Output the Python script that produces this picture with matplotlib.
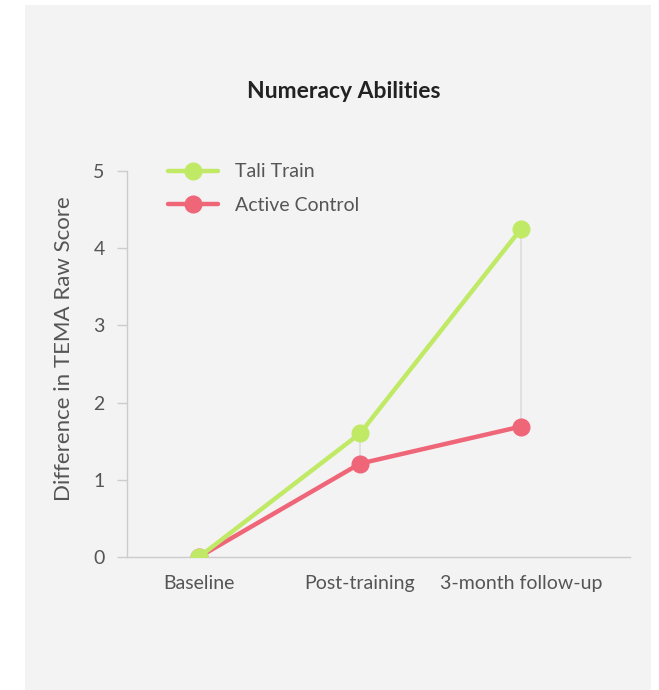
import matplotlib
matplotlib.use("Agg")
import matplotlib.pyplot as plt
from matplotlib.patches import Rectangle

categories = ["Baseline", "Post-training", "3-month follow-up"]
tali_train = [0.0, 1.6, 4.25]
active_control = [0.0, 1.21, 1.69]
y_ticks = [0, 1, 2, 3, 4, 5]

GREEN = "#c0ea66"
RED = "#ef6679"
TEXT = "#555555"
FONT = ["Lato", "DejaVu Sans"]
plt.rcParams["font.family"] = FONT

W, H = 659, 690
fig = plt.figure(figsize=(W / 100, H / 100), dpi=100)
fig.patch.set_facecolor("white")
fig.patches.append(Rectangle((25 / W, 0), (651 - 25) / W, (690 - 5) / H,
                             transform=fig.transFigure, facecolor="#f3f3f3",
                             edgecolor="none", zorder=-5))

ax = fig.add_axes([127 / W, 1 - 557 / H, (630 - 127) / W, (557 - 171) / H])
ax.set_facecolor("none")
ax.set_zorder(1)

x = list(range(len(categories)))
lows = [min(a, b) for a, b in zip(tali_train, active_control)]
highs = [max(a, b) for a, b in zip(tali_train, active_control)]
ax.vlines(x, lows, highs, color="#dddddd", lw=1.2, zorder=1)

ax.plot(x, active_control, color=RED, lw=3.2, marker="o", ms=12,
        label="Active Control", zorder=2, solid_capstyle="round")
ax.plot(x, tali_train, color=GREEN, lw=3.2, marker="o", ms=12,
        label="Tali Train", zorder=3, solid_capstyle="round")

ax.set_xlim(-0.447, 2.677)
ax.set_ylim(0, 5)
ax.set_xticks(x)
ax.set_xticklabels(categories)
ax.set_yticks(y_ticks)
ax.tick_params(axis="x", length=0, pad=13, labelsize=14, labelcolor=TEXT)
ax.tick_params(axis="y", length=7, width=1, color="#cccccc", pad=9,
               labelsize=14, labelcolor=TEXT)
for s in ["top", "right"]:
    ax.spines[s].set_visible(False)
for s in ["left", "bottom"]:
    ax.spines[s].set_color("#cccccc")
    ax.spines[s].set_linewidth(1)

ax.set_ylabel("Difference in TEMA Raw Score", fontsize=16, color=TEXT)
ax.yaxis.set_label_coords(-0.105, 0.539)

handles, labels = ax.get_legend_handles_labels()
leg = ax.legend(handles[::-1], labels[::-1], loc="upper left",
                bbox_to_anchor=(0.046, 1.065), frameon=False, fontsize=14,
                labelcolor=TEXT, handlelength=2.6, handletextpad=0.85,
                labelspacing=0.85)

fig.text(344 / W, 1 - 91 / H, "Numeracy Abilities", ha="center", va="center",
         fontsize=16.5, fontweight="bold", color="#222222")

fig.savefig("out.png", dpi=100)
